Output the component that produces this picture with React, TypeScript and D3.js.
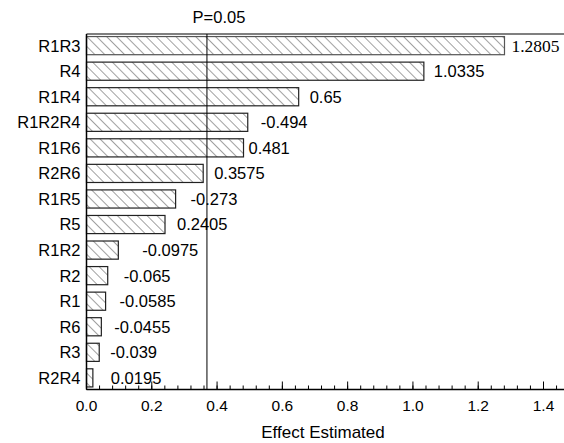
import React from "react";
import { scaleLinear, scaleBand, range } from "d3";

const factors = [
  "R1R3", "R4", "R1R4", "R1R2R4", "R1R6", "R2R6", "R1R5",
  "R5", "R1R2", "R2", "R1", "R6", "R3", "R2R4",
];
const effects = [
  1.2805, 1.0335, 0.65, -0.494, 0.481, 0.3575, -0.273,
  0.2405, -0.0975, -0.065, -0.0585, -0.0455, -0.039, 0.0195,
];
// hand-placed gaps between bar end and value label (as in the original)
const labelGap = [7, 10, 11, 13, 5, 11, 15, 12, 24, 16, 14, 13, 11, 18];
const xTicks = [0, 0.2, 0.4, 0.6, 0.8, 1.0, 1.2, 1.4];
const pValueLine = 0.369;
const pLabel = "P=0.05";

export default function App() {
  const width = 564,
    height = 443,
    margin = { top: 34, right: 0, bottom: 53.5, left: 86.5 },
    axisY = height - margin.bottom,
    x = scaleLinear().domain([0, 1.4628]).range([margin.left, width]),
    y = scaleBand()
      .domain(factors)
      .range([margin.top, axisY])
      .paddingInner(0.29)
      .paddingOuter(0.1),
    minorTicks = range(0, 1.46, 0.04),
    font = "'Liberation Sans', Arial, sans-serif";

  return (
    <div style={{ position: "absolute", left: 0, top: 0 }}>
      <svg width={width} height={height} style={{ display: "block" }}>
        <defs>
          <pattern
            id="hatch"
            patternUnits="userSpaceOnUse"
            width={7}
            height={7}
            patternTransform="rotate(-45)"
          >
            <rect width={7} height={7} fill="#fff" />
            <line x1={0} y1={0} x2={0} y2={7} stroke="#444" strokeWidth={1} />
          </pattern>
        </defs>
        <rect width={width} height={height} fill="#fff" />

        {factors.map((f, i) => (
          <g key={f}>
            <rect
              x={x(0)}
              y={y(f)}
              width={x(Math.abs(effects[i])) - x(0)}
              height={y.bandwidth()}
              fill="url(#hatch)"
              stroke={i === 0 ? "#555" : "#222"}
              strokeWidth={1.2}
            />
            <text
              x={x(Math.abs(effects[i])) + labelGap[i]}
              y={y(f) + y.bandwidth() / 2}
              dy="0.36em"
              fontFamily={i === 0 ? "'Liberation Serif', 'Times New Roman', serif" : font}
              fontSize={i === 0 ? 17.5 : 16.5}
              fill="#000"
            >
              {effects[i]}
            </text>
            <text
              x={margin.left - 6}
              y={y(f) + y.bandwidth() / 2}
              dy="0.36em"
              textAnchor="end"
              fontFamily={font}
              fontSize={16.5}
            >
              {f}
            </text>
          </g>
        ))}

        {/* frame */}
        <line x1={margin.left} x2={width} y1={margin.top} y2={margin.top} stroke="#555" strokeWidth={1.5} />
        <line x1={margin.left} x2={margin.left} y1={margin.top} y2={axisY} stroke="#000" strokeWidth={1.5} />
        <line x1={margin.left} x2={width} y1={axisY} y2={axisY} stroke="#000" strokeWidth={1.5} />

        {/* significance line */}
        <line x1={x(pValueLine)} x2={x(pValueLine)} y1={margin.top} y2={axisY} stroke="#000" strokeWidth={1} />
        <text x={x(pValueLine) + 12} y={17} dy="0.36em" textAnchor="middle" fontFamily={font} fontSize={16.5}>
          {pLabel}
        </text>

        {/* x axis */}
        {minorTicks.map((t) => (
          <line key={"m" + t} x1={x(t)} x2={x(t)} y1={axisY} y2={axisY - 4} stroke="#000" />
        ))}
        {xTicks.map((t) => (
          <g key={t} transform={`translate(${x(t)},${axisY})`}>
            <line y2={-8} stroke="#000" />
            <text y={16} dy="0.36em" textAnchor="middle" fontFamily={font} fontSize={15.5}>
              {t.toFixed(1)}
            </text>
          </g>
        ))}
        <text x={323} y={432} dy="0.36em" textAnchor="middle" fontFamily={font} fontSize={17}>
          Effect Estimated
        </text>
      </svg>
    </div>
  );
}
